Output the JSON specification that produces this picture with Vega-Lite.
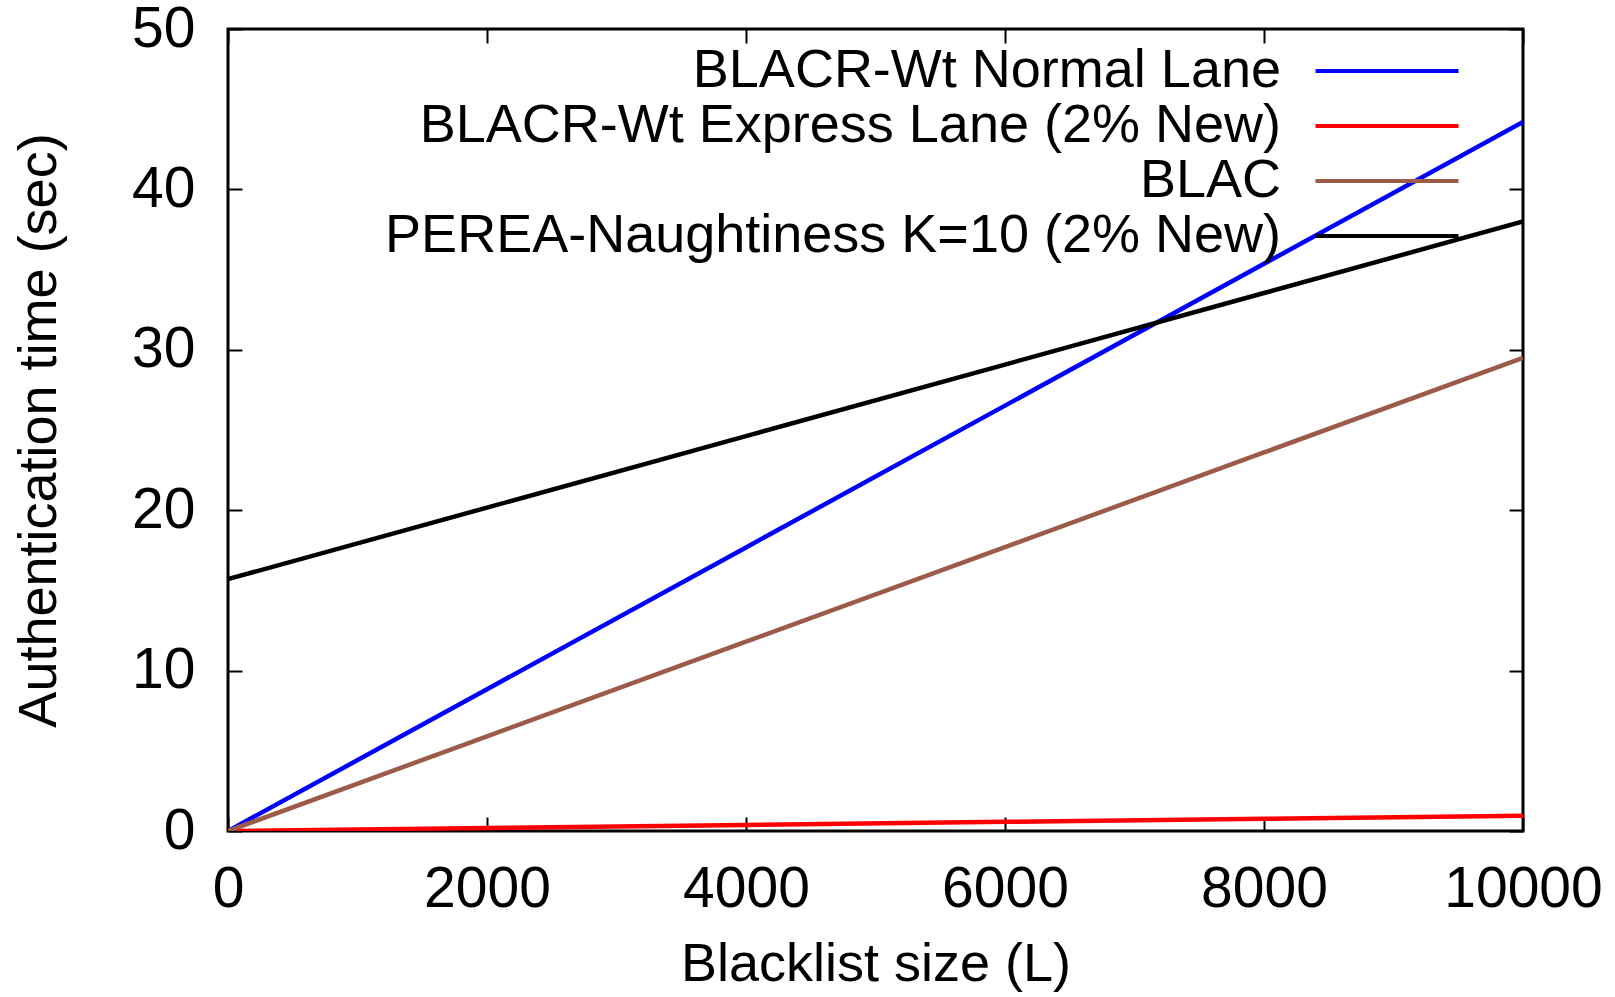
{
  "$schema": "https://vega.github.io/schema/vega-lite/v6.json",
  "autosize": "none",
  "width": 1295,
  "height": 802,
  "padding": {"left": 228, "top": 29, "right": 92, "bottom": 166},
  "background": "white",
  "config": {
    "font": "Liberation Sans",
    "view": {"stroke": "black", "strokeWidth": 3},
    "axis": {
      "grid": false,
      "domain": false,
      "tickSize": -14,
      "tickWidth": 2,
      "tickColor": "black",
      "labelFont": "Liberation Sans",
      "labelFontSize": 57,
      "labelColor": "black",
      "titleFont": "Liberation Sans",
      "titleFontSize": 54,
      "titleFontWeight": "normal",
      "titleColor": "black",
      "labelFlush": false,
      "labelOverlap": false
    }
  },
  "data": {
    "values": [
      {"L": 0, "time": 0, "series": "BLACR-Wt Normal Lane"},
      {"L": 2000, "time": 8.84, "series": "BLACR-Wt Normal Lane"},
      {"L": 4000, "time": 17.68, "series": "BLACR-Wt Normal Lane"},
      {"L": 6000, "time": 26.52, "series": "BLACR-Wt Normal Lane"},
      {"L": 8000, "time": 35.36, "series": "BLACR-Wt Normal Lane"},
      {"L": 10000, "time": 44.2, "series": "BLACR-Wt Normal Lane"},
      {"L": 0, "time": 0, "series": "BLACR-Wt Express Lane (2% New)"},
      {"L": 2000, "time": 0.19, "series": "BLACR-Wt Express Lane (2% New)"},
      {"L": 4000, "time": 0.38, "series": "BLACR-Wt Express Lane (2% New)"},
      {"L": 6000, "time": 0.57, "series": "BLACR-Wt Express Lane (2% New)"},
      {"L": 8000, "time": 0.76, "series": "BLACR-Wt Express Lane (2% New)"},
      {"L": 10000, "time": 0.95, "series": "BLACR-Wt Express Lane (2% New)"},
      {"L": 0, "time": 0, "series": "BLAC"},
      {"L": 2000, "time": 5.9, "series": "BLAC"},
      {"L": 4000, "time": 11.8, "series": "BLAC"},
      {"L": 6000, "time": 17.7, "series": "BLAC"},
      {"L": 8000, "time": 23.6, "series": "BLAC"},
      {"L": 10000, "time": 29.5, "series": "BLAC"},
      {"L": 0, "time": 15.7, "series": "PEREA-Naughtiness K=10 (2% New)"},
      {"L": 2000, "time": 20.16, "series": "PEREA-Naughtiness K=10 (2% New)"},
      {"L": 4000, "time": 24.62, "series": "PEREA-Naughtiness K=10 (2% New)"},
      {"L": 6000, "time": 29.08, "series": "PEREA-Naughtiness K=10 (2% New)"},
      {"L": 8000, "time": 33.54, "series": "PEREA-Naughtiness K=10 (2% New)"},
      {"L": 10000, "time": 38.0, "series": "PEREA-Naughtiness K=10 (2% New)"}
    ]
  },
  "layer": [
    {
      "mark": {"type": "line", "strokeWidth": 4.5, "clip": true},
      "encoding": {
        "x": {
          "field": "L", "type": "quantitative",
          "scale": {"domain": [0, 10000], "nice": false},
          "axis": {"orient": "bottom", "values": [0, 2000, 4000, 6000, 8000, 10000], "format": "d", "title": "Blacklist size (L)", "labelPadding": 44, "titlePadding": 20}
        },
        "y": {
          "field": "time", "type": "quantitative",
          "scale": {"domain": [0, 50], "nice": false},
          "axis": {"orient": "left", "values": [0, 10, 20, 30, 40, 50], "format": "d", "title": "Authentication time (sec)", "labelPadding": 47, "titlePadding": 65}
        },
        "color": {
          "field": "series", "type": "nominal",
          "scale": {
            "domain": ["BLACR-Wt Normal Lane", "BLACR-Wt Express Lane (2% New)", "BLAC", "PEREA-Naughtiness K=10 (2% New)"],
            "range": ["#0000ff", "#ff0000", "#9c5a48", "#000000"]
          },
          "legend": {
            "title": null,
            "orient": "none",
            "legendX": 1132,
            "legendY": 15,
            "padding": 0,
            "rowPadding": 1,
            "symbolType": "M-5,0H5",
            "symbolSize": 818,
            "symbolStrokeWidth": 4,
            "labelFont": "Liberation Sans",
            "labelFontSize": 54,
            "labelColor": "black",
            "labelAlign": "right",
            "labelOffset": -133,
            "labelLimit": 2000
          }
        }
      }
    },
    {
      "mark": {"type": "point", "opacity": 0},
      "encoding": {
        "x": {
          "field": "L", "type": "quantitative",
          "axis": {"orient": "top", "values": [0, 2000, 4000, 6000, 8000, 10000], "labels": false, "title": null}
        },
        "y": {
          "field": "time", "type": "quantitative",
          "axis": {"orient": "right", "values": [0, 10, 20, 30, 40, 50], "labels": false, "title": null}
        }
      }
    }
  ],
  "resolve": {"axis": {"x": "independent", "y": "independent"}}
}
